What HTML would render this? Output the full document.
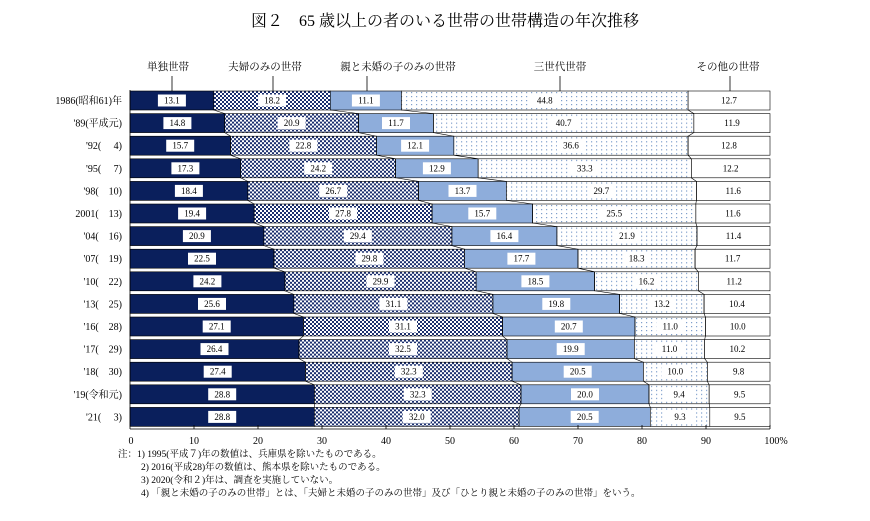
<!DOCTYPE html>
<html><head><meta charset="utf-8"><style>
body{margin:0;background:#fff;}
svg{display:block;font-family:"Liberation Serif","Noto Serif CJK SC","Noto Sans CJK JP",serif;}
.b rect{stroke:#000;stroke-width:0.6}
.l rect{fill:#fff;stroke:none}
.l text{font-size:9px;text-anchor:middle;dominant-baseline:central;fill:#000}
.rl{font-size:10px;text-anchor:end}
.hd{font-size:10.5px;text-anchor:middle}
.ax{font-size:10px;text-anchor:middle}
.nt{font-size:9.5px}
</style></head><body>
<svg width="870" height="521" viewBox="0 0 870 521">
<defs>
<pattern id="ck" width="4" height="4" patternUnits="userSpaceOnUse"><rect width="4" height="4" fill="#fff"/><rect width="2" height="2" fill="#1b2f6e"/><rect x="2" y="2" width="2" height="2" fill="#1b2f6e"/></pattern>
<pattern id="dt" width="5" height="4" patternUnits="userSpaceOnUse"><rect width="5" height="4" fill="#fff"/><rect x="1" y="1" width="1.2" height="1.2" fill="#7f9fcc"/></pattern>
</defs>
<text x="445" y="26" font-size="16" text-anchor="middle">図２　65 歳以上の者のいる世帯の世帯構造の年次推移</text>
<g class="hd"><text x="168" y="70">単独世帯</text><text x="265" y="70">夫婦のみの世帯</text><text x="398" y="70">親と未婚の子のみの世帯</text><text x="560" y="70">三世代世帯</text><text x="728" y="70">その他の世帯</text></g>
<g stroke="#000" stroke-width="0.8"><line x1="172" y1="76" x2="172" y2="91"/><line x1="273" y1="76" x2="273" y2="91"/><line x1="367" y1="76" x2="367" y2="91"/><line x1="560" y1="76" x2="560" y2="91"/><line x1="730" y1="76" x2="730" y2="91"/></g>
<g class="rl">
<text x="122" y="104">1986(昭和61)年</text><text x="122" y="126.6">'89(平成元)</text><text x="122" y="149.2">'92(　 4)</text><text x="122" y="171.8">'95(　 7)</text><text x="122" y="194.4">'98(　10)</text><text x="122" y="217">2001(　13)</text><text x="122" y="239.6">'04(　16)</text><text x="122" y="262.2">'07(　19)</text><text x="122" y="284.8">'10(　22)</text><text x="122" y="307.4">'13(　25)</text><text x="122" y="330">'16(　28)</text><text x="122" y="352.6">'17(　29)</text><text x="122" y="375.2">'18(　30)</text><text x="122" y="397.8">'19(令和元)</text><text x="122" y="420.4">'21(　 3)</text>
</g>
<g class="b">
<g transform="translate(0,91)"><rect x="130" width="83.8" height="19" fill="#0a1f5c"/><rect x="213.8" width="116.5" height="19" fill="url(#ck)"/><rect x="330.3" width="71.1" height="19" fill="#8eaddb"/><rect x="401.4" width="286.7" height="19" fill="url(#dt)"/><rect x="688.1" width="81.9" height="19" fill="#fff"/></g>
<g transform="translate(0,113.6)"><rect x="130" width="94.7" height="19" fill="#0a1f5c"/><rect x="224.7" width="133.8" height="19" fill="url(#ck)"/><rect x="358.5" width="74.9" height="19" fill="#8eaddb"/><rect x="433.4" width="260.4" height="19" fill="url(#dt)"/><rect x="693.8" width="76.2" height="19" fill="#fff"/></g>
<g transform="translate(0,136.2)"><rect x="130" width="100.5" height="19" fill="#0a1f5c"/><rect x="230.5" width="145.9" height="19" fill="url(#ck)"/><rect x="376.4" width="77.4" height="19" fill="#8eaddb"/><rect x="453.8" width="234.3" height="19" fill="url(#dt)"/><rect x="688.1" width="81.9" height="19" fill="#fff"/></g>
<g transform="translate(0,158.8)"><rect x="130" width="110.7" height="19" fill="#0a1f5c"/><rect x="240.7" width="154.9" height="19" fill="url(#ck)"/><rect x="395.6" width="82.6" height="19" fill="#8eaddb"/><rect x="478.2" width="213.1" height="19" fill="url(#dt)"/><rect x="691.3" width="78.7" height="19" fill="#fff"/></g>
<g transform="translate(0,181.4)"><rect x="130" width="117.8" height="19" fill="#0a1f5c"/><rect x="247.8" width="170.8" height="19" fill="url(#ck)"/><rect x="418.6" width="87.7" height="19" fill="#8eaddb"/><rect x="506.3" width="190.1" height="19" fill="url(#dt)"/><rect x="696.4" width="73.6" height="19" fill="#fff"/></g>
<g transform="translate(0,204)"><rect x="130" width="124.2" height="19" fill="#0a1f5c"/><rect x="254.2" width="177.9" height="19" fill="url(#ck)"/><rect x="432.1" width="100.5" height="19" fill="#8eaddb"/><rect x="532.6" width="163.2" height="19" fill="url(#dt)"/><rect x="695.8" width="74.2" height="19" fill="#fff"/></g>
<g transform="translate(0,226.6)"><rect x="130" width="133.8" height="19" fill="#0a1f5c"/><rect x="263.8" width="188.1" height="19" fill="url(#ck)"/><rect x="451.9" width="105" height="19" fill="#8eaddb"/><rect x="556.9" width="140.1" height="19" fill="url(#dt)"/><rect x="697" width="73" height="19" fill="#fff"/></g>
<g transform="translate(0,249.2)"><rect x="130" width="144" height="19" fill="#0a1f5c"/><rect x="274" width="190.7" height="19" fill="url(#ck)"/><rect x="464.7" width="113.3" height="19" fill="#8eaddb"/><rect x="578" width="117.1" height="19" fill="url(#dt)"/><rect x="695.1" width="74.9" height="19" fill="#fff"/></g>
<g transform="translate(0,271.8)"><rect x="130" width="154.9" height="19" fill="#0a1f5c"/><rect x="284.9" width="191.3" height="19" fill="url(#ck)"/><rect x="476.2" width="118.4" height="19" fill="#8eaddb"/><rect x="594.6" width="103.7" height="19" fill="url(#dt)"/><rect x="698.3" width="71.7" height="19" fill="#fff"/></g>
<g transform="translate(0,294.4)"><rect x="130" width="163.8" height="19" fill="#0a1f5c"/><rect x="293.8" width="199.1" height="19" fill="url(#ck)"/><rect x="492.9" width="126.7" height="19" fill="#8eaddb"/><rect x="619.6" width="84.5" height="19" fill="url(#dt)"/><rect x="704.1" width="65.9" height="19" fill="#fff"/></g>
<g transform="translate(0,317)"><rect x="130" width="173.4" height="19" fill="#0a1f5c"/><rect x="303.4" width="199.1" height="19" fill="url(#ck)"/><rect x="502.5" width="132.5" height="19" fill="#8eaddb"/><rect x="635" width="70.4" height="19" fill="url(#dt)"/><rect x="705.4" width="64.6" height="19" fill="#fff"/></g>
<g transform="translate(0,339.6)"><rect x="130" width="169" height="19" fill="#0a1f5c"/><rect x="299" width="208" height="19" fill="url(#ck)"/><rect x="507" width="127.3" height="19" fill="#8eaddb"/><rect x="634.3" width="70.4" height="19" fill="url(#dt)"/><rect x="704.7" width="65.3" height="19" fill="#fff"/></g>
<g transform="translate(0,362.2)"><rect x="130" width="175.4" height="19" fill="#0a1f5c"/><rect x="305.4" width="206.7" height="19" fill="url(#ck)"/><rect x="512.1" width="131.2" height="19" fill="#8eaddb"/><rect x="643.3" width="64" height="19" fill="url(#dt)"/><rect x="707.3" width="62.7" height="19" fill="#fff"/></g>
<g transform="translate(0,384.8)"><rect x="130" width="184.3" height="19" fill="#0a1f5c"/><rect x="314.3" width="206.7" height="19" fill="url(#ck)"/><rect x="521" width="128" height="19" fill="#8eaddb"/><rect x="649" width="60.2" height="19" fill="url(#dt)"/><rect x="709.2" width="60.8" height="19" fill="#fff"/></g>
<g transform="translate(0,407.4)"><rect x="130" width="184.3" height="19" fill="#0a1f5c"/><rect x="314.3" width="204.8" height="19" fill="url(#ck)"/><rect x="519.1" width="131.2" height="19" fill="#8eaddb"/><rect x="650.3" width="59.5" height="19" fill="url(#dt)"/><rect x="709.8" width="60.2" height="19" fill="#fff"/></g>
</g>
<g fill="none" stroke="#000" stroke-width="0.6">
<polyline points="213.8,110 224.7,113.6 224.7,132.6 230.5,136.2 230.5,155.2 240.7,158.8 240.7,177.8 247.8,181.4 247.8,200.4 254.2,204 254.2,223 263.8,226.6 263.8,245.6 274,249.2 274,268.2 284.9,271.8 284.9,290.8 293.8,294.4 293.8,313.4 303.4,317 303.4,336 299,339.6 299,358.6 305.4,362.2 305.4,381.2 314.3,384.8 314.3,403.8 314.3,407.4"/>
<polyline points="330.3,110 358.5,113.6 358.5,132.6 376.4,136.2 376.4,155.2 395.6,158.8 395.6,177.8 418.6,181.4 418.6,200.4 432.1,204 432.1,223 451.9,226.6 451.9,245.6 464.7,249.2 464.7,268.2 476.2,271.8 476.2,290.8 492.9,294.4 492.9,313.4 502.5,317 502.5,336 507,339.6 507,358.6 512.1,362.2 512.1,381.2 521,384.8 521,403.8 519.1,407.4"/>
<polyline points="401.4,110 433.4,113.6 433.4,132.6 453.8,136.2 453.8,155.2 478.2,158.8 478.2,177.8 506.3,181.4 506.3,200.4 532.6,204 532.6,223 556.9,226.6 556.9,245.6 578,249.2 578,268.2 594.6,271.8 594.6,290.8 619.6,294.4 619.6,313.4 635,317 635,336 634.3,339.6 634.3,358.6 643.3,362.2 643.3,381.2 649,384.8 649,403.8 650.3,407.4"/>
<polyline points="688.1,110 693.8,113.6 693.8,132.6 688.1,136.2 688.1,155.2 691.3,158.8 691.3,177.8 696.4,181.4 696.4,200.4 695.8,204 695.8,223 697,226.6 697,245.6 695.1,249.2 695.1,268.2 698.3,271.8 698.3,290.8 704.1,294.4 704.1,313.4 705.4,317 705.4,336 704.7,339.6 704.7,358.6 707.3,362.2 707.3,381.2 709.2,384.8 709.2,403.8 709.8,407.4"/>
</g>
<g class="l">
<g transform="translate(0,100.5)"><g transform="translate(171.9,0)"><rect x="-14" y="-6" width="28" height="12"/><text>13.1</text></g><g transform="translate(272.1,0)"><rect x="-14" y="-6" width="28" height="12"/><text>18.2</text></g><g transform="translate(365.9,0)"><rect x="-14" y="-6" width="28" height="12"/><text>11.1</text></g><g transform="translate(544.7,0)"><rect x="-14" y="-6" width="28" height="12"/><text>44.8</text></g><g transform="translate(729,0)"><rect x="-14" y="-6" width="28" height="12"/><text>12.7</text></g></g>
<g transform="translate(0,123.1)"><g transform="translate(177.4,0)"><rect x="-14" y="-6" width="28" height="12"/><text>14.8</text></g><g transform="translate(291.6,0)"><rect x="-14" y="-6" width="28" height="12"/><text>20.9</text></g><g transform="translate(396,0)"><rect x="-14" y="-6" width="28" height="12"/><text>11.7</text></g><g transform="translate(563.6,0)"><rect x="-14" y="-6" width="28" height="12"/><text>40.7</text></g><g transform="translate(732,0)"><rect x="-14" y="-6" width="28" height="12"/><text>11.9</text></g></g>
<g transform="translate(0,145.7)"><g transform="translate(180.2,0)"><rect x="-14" y="-6" width="28" height="12"/><text>15.7</text></g><g transform="translate(303.4,0)"><rect x="-14" y="-6" width="28" height="12"/><text>22.8</text></g><g transform="translate(415.1,0)"><rect x="-14" y="-6" width="28" height="12"/><text>12.1</text></g><g transform="translate(571,0)"><rect x="-14" y="-6" width="28" height="12"/><text>36.6</text></g><g transform="translate(729,0)"><rect x="-14" y="-6" width="28" height="12"/><text>12.8</text></g></g>
<g transform="translate(0,168.3)"><g transform="translate(185.4,0)"><rect x="-14" y="-6" width="28" height="12"/><text>17.3</text></g><g transform="translate(318.2,0)"><rect x="-14" y="-6" width="28" height="12"/><text>24.2</text></g><g transform="translate(436.9,0)"><rect x="-14" y="-6" width="28" height="12"/><text>12.9</text></g><g transform="translate(584.7,0)"><rect x="-14" y="-6" width="28" height="12"/><text>33.3</text></g><g transform="translate(730.6,0)"><rect x="-14" y="-6" width="28" height="12"/><text>12.2</text></g></g>
<g transform="translate(0,190.9)"><g transform="translate(188.9,0)"><rect x="-14" y="-6" width="28" height="12"/><text>18.4</text></g><g transform="translate(333.2,0)"><rect x="-14" y="-6" width="28" height="12"/><text>26.7</text></g><g transform="translate(462.5,0)"><rect x="-14" y="-6" width="28" height="12"/><text>13.7</text></g><g transform="translate(601.4,0)"><rect x="-14" y="-6" width="28" height="12"/><text>29.7</text></g><g transform="translate(733.2,0)"><rect x="-14" y="-6" width="28" height="12"/><text>11.6</text></g></g>
<g transform="translate(0,213.5)"><g transform="translate(192.1,0)"><rect x="-14" y="-6" width="28" height="12"/><text>19.4</text></g><g transform="translate(343.1,0)"><rect x="-14" y="-6" width="28" height="12"/><text>27.8</text></g><g transform="translate(482.3,0)"><rect x="-14" y="-6" width="28" height="12"/><text>15.7</text></g><g transform="translate(614.2,0)"><rect x="-14" y="-6" width="28" height="12"/><text>25.5</text></g><g transform="translate(732.9,0)"><rect x="-14" y="-6" width="28" height="12"/><text>11.6</text></g></g>
<g transform="translate(0,236.1)"><g transform="translate(196.9,0)"><rect x="-14" y="-6" width="28" height="12"/><text>20.9</text></g><g transform="translate(357.8,0)"><rect x="-14" y="-6" width="28" height="12"/><text>29.4</text></g><g transform="translate(504.4,0)"><rect x="-14" y="-6" width="28" height="12"/><text>16.4</text></g><g transform="translate(627,0)"><rect x="-14" y="-6" width="28" height="12"/><text>21.9</text></g><g transform="translate(733.5,0)"><rect x="-14" y="-6" width="28" height="12"/><text>11.4</text></g></g>
<g transform="translate(0,258.7)"><g transform="translate(202,0)"><rect x="-14" y="-6" width="28" height="12"/><text>22.5</text></g><g transform="translate(369.4,0)"><rect x="-14" y="-6" width="28" height="12"/><text>29.8</text></g><g transform="translate(521.4,0)"><rect x="-14" y="-6" width="28" height="12"/><text>17.7</text></g><g transform="translate(636.6,0)"><rect x="-14" y="-6" width="28" height="12"/><text>18.3</text></g><g transform="translate(732.6,0)"><rect x="-14" y="-6" width="28" height="12"/><text>11.7</text></g></g>
<g transform="translate(0,281.3)"><g transform="translate(207.4,0)"><rect x="-14" y="-6" width="28" height="12"/><text>24.2</text></g><g transform="translate(380.5,0)"><rect x="-14" y="-6" width="28" height="12"/><text>29.9</text></g><g transform="translate(535.4,0)"><rect x="-14" y="-6" width="28" height="12"/><text>18.5</text></g><g transform="translate(646.5,0)"><rect x="-14" y="-6" width="28" height="12"/><text>16.2</text></g><g transform="translate(734.2,0)"><rect x="-14" y="-6" width="28" height="12"/><text>11.2</text></g></g>
<g transform="translate(0,303.9)"><g transform="translate(212,0)"><rect x="-14" y="-6" width="28" height="12"/><text>25.6</text></g><g transform="translate(393.4,0)"><rect x="-14" y="-6" width="28" height="12"/><text>31.1</text></g><g transform="translate(556.3,0)"><rect x="-14" y="-6" width="28" height="12"/><text>19.8</text></g><g transform="translate(661.9,0)"><rect x="-14" y="-6" width="28" height="12"/><text>13.2</text></g><g transform="translate(737,0)"><rect x="-14" y="-6" width="28" height="12"/><text>10.4</text></g></g>
<g transform="translate(0,326.5)"><g transform="translate(216.7,0)"><rect x="-14" y="-6" width="28" height="12"/><text>27.1</text></g><g transform="translate(403,0)"><rect x="-14" y="-6" width="28" height="12"/><text>31.1</text></g><g transform="translate(568.8,0)"><rect x="-14" y="-6" width="28" height="12"/><text>20.7</text></g><g transform="translate(670.2,0)"><rect x="-14" y="-6" width="28" height="12"/><text>11.0</text></g><g transform="translate(737.7,0)"><rect x="-14" y="-6" width="28" height="12"/><text>10.0</text></g></g>
<g transform="translate(0,349.1)"><g transform="translate(214.5,0)"><rect x="-14" y="-6" width="28" height="12"/><text>26.4</text></g><g transform="translate(403,0)"><rect x="-14" y="-6" width="28" height="12"/><text>32.5</text></g><g transform="translate(570.7,0)"><rect x="-14" y="-6" width="28" height="12"/><text>19.9</text></g><g transform="translate(669.5,0)"><rect x="-14" y="-6" width="28" height="12"/><text>11.0</text></g><g transform="translate(737.4,0)"><rect x="-14" y="-6" width="28" height="12"/><text>10.2</text></g></g>
<g transform="translate(0,371.7)"><g transform="translate(217.7,0)"><rect x="-14" y="-6" width="28" height="12"/><text>27.4</text></g><g transform="translate(408.8,0)"><rect x="-14" y="-6" width="28" height="12"/><text>32.3</text></g><g transform="translate(577.7,0)"><rect x="-14" y="-6" width="28" height="12"/><text>20.5</text></g><g transform="translate(675.3,0)"><rect x="-14" y="-6" width="28" height="12"/><text>10.0</text></g><g transform="translate(738.6,0)"><rect x="-14" y="-6" width="28" height="12"/><text>9.8</text></g></g>
<g transform="translate(0,394.3)"><g transform="translate(222.2,0)"><rect x="-14" y="-6" width="28" height="12"/><text>28.8</text></g><g transform="translate(417.7,0)"><rect x="-14" y="-6" width="28" height="12"/><text>32.3</text></g><g transform="translate(585,0)"><rect x="-14" y="-6" width="28" height="12"/><text>20.0</text></g><g transform="translate(679.1,0)"><rect x="-14" y="-6" width="28" height="12"/><text>9.4</text></g><g transform="translate(739.6,0)"><rect x="-14" y="-6" width="28" height="12"/><text>9.5</text></g></g>
<g transform="translate(0,416.9)"><g transform="translate(222.2,0)"><rect x="-14" y="-6" width="28" height="12"/><text>28.8</text></g><g transform="translate(416.7,0)"><rect x="-14" y="-6" width="28" height="12"/><text>32.0</text></g><g transform="translate(584.7,0)"><rect x="-14" y="-6" width="28" height="12"/><text>20.5</text></g><g transform="translate(680,0)"><rect x="-14" y="-6" width="28" height="12"/><text>9.3</text></g><g transform="translate(739.9,0)"><rect x="-14" y="-6" width="28" height="12"/><text>9.5</text></g></g>
</g>
<g stroke="#000" stroke-width="0.8"><line x1="130" y1="90" x2="130" y2="429"/><line x1="130" y1="429" x2="770" y2="429"/>
<line x1="194" y1="429" x2="194" y2="425"/><line x1="258" y1="429" x2="258" y2="425"/><line x1="322" y1="429" x2="322" y2="425"/><line x1="386" y1="429" x2="386" y2="425"/><line x1="450" y1="429" x2="450" y2="425"/><line x1="514" y1="429" x2="514" y2="425"/><line x1="578" y1="429" x2="578" y2="425"/><line x1="642" y1="429" x2="642" y2="425"/><line x1="706" y1="429" x2="706" y2="425"/><line x1="770" y1="429" x2="770" y2="425"/></g>
<g class="ax"><text x="131" y="444">0</text><text x="194" y="444">10</text><text x="258" y="444">20</text><text x="322" y="444">30</text><text x="386" y="444">40</text><text x="450" y="444">50</text><text x="514" y="444">60</text><text x="578" y="444">70</text><text x="642" y="444">80</text><text x="706" y="444">90</text><text x="776" y="444">100%</text></g>
<g class="nt"><text x="118" y="457">注：1) 1995(平成７)年の数値は、兵庫県を除いたものである。</text>
<text x="141" y="470">2) 2016(平成28)年の数値は、熊本県を除いたものである。</text>
<text x="141" y="483">3) 2020(令和２)年は、調査を実施していない。</text>
<text x="141" y="496">4) 「親と未婚の子のみの世帯」とは、「夫婦と未婚の子のみの世帯」及び「ひとり親と未婚の子のみの世帯」をいう。</text></g>
</svg>
</body></html>
